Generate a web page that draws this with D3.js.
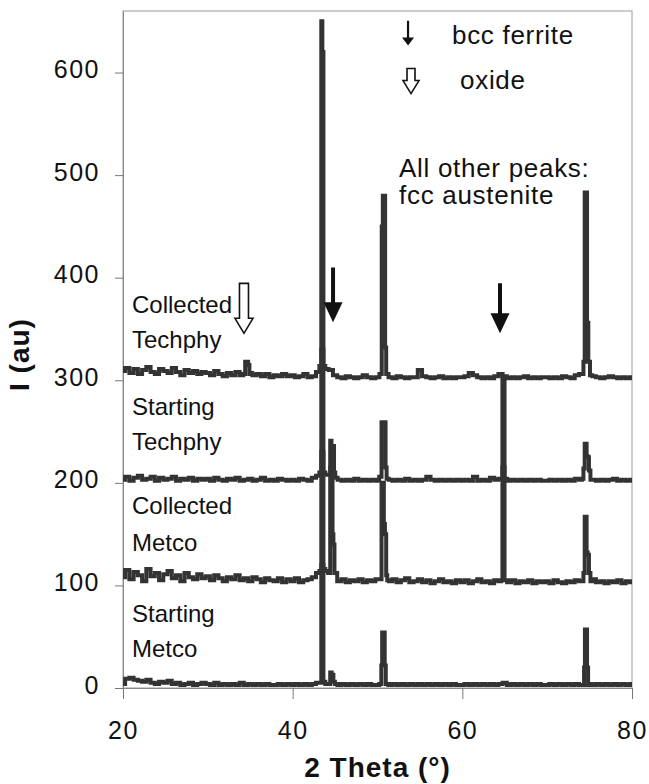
<!DOCTYPE html>
<html>
<head>
<meta charset="utf-8">
<script src="https://cdn.jsdelivr.net/npm/d3@7"></script>
<style>
    body { margin: 0; background: #fff; }
    text { font-family: "Liberation Sans", Arial, sans-serif; fill: #111; }
    .axis-label { font-size: 25px; letter-spacing: 1.5px; }
    .axis-title { font-size: 28px; font-weight: bold; letter-spacing: 1px; }
    .trace-label { font-size: 24px; }
    .note-label { font-size: 26px; letter-spacing: 0.7px; }
</style>
</head>
<body>
<svg id="xrd" width="649" height="784"></svg>
<script>
// sampling grid of the baseline (2 theta, degrees)
const thetaGrid = [
    20, 20.5, 21, 21.5, 22, 22.5, 23, 23.5, 24, 24.5, 25, 25.5, 26, 26.5, 27, 27.5, 28, 28.5, 29, 29.5,
    30, 30.5, 31, 31.5, 32, 32.5, 33, 33.5, 34, 34.5, 35, 35.5, 36, 36.5, 37, 37.5, 38, 38.5, 39, 39.5,
    40, 40.5, 41, 41.5, 42, 42.5, 43, 43.5, 44, 44.5, 45, 45.5, 46, 46.5, 47, 47.5, 48, 48.5, 49, 49.5,
    50, 50.5, 51, 51.5, 52, 52.5, 53, 53.5, 54, 54.5, 55, 55.5, 56, 56.5, 57, 57.5, 58, 58.5, 59, 59.5,
    60, 60.5, 61, 61.5, 62, 62.5, 63, 63.5, 64, 64.5, 65, 65.5, 66, 66.5, 67, 67.5, 68, 68.5, 69, 69.5,
    70, 70.5, 71, 71.5, 72, 72.5, 73, 73.5, 74, 74.5, 75, 75.5, 76, 76.5, 77, 77.5, 78, 78.5, 79, 79.5, 80
];

// baseline intensities (au), already offset by 300 / 200 / 100 / 0
const collectedTechphyBase = [
    309, 312, 307, 311, 306, 310, 313, 308, 306, 311, 309, 307, 312, 308, 305, 310, 307, 309, 306, 308,
    307, 305, 309, 306, 304, 307, 305, 308, 305, 306, 307, 305, 306, 304, 306, 303, 305, 304, 306, 304,
    305, 303, 304, 306, 303, 304, 308, 310, 311, 310, 305, 303, 302, 304, 303, 302, 303, 305, 303, 302,
    303, 303, 303, 303, 302, 304, 303, 302, 303, 303, 310, 304, 303, 302, 303, 304, 302, 303, 302, 303,
    303, 304, 307, 305, 303, 302, 303, 302, 304, 306, 304, 302, 303, 302, 303, 304, 302, 303, 302, 303,
    303, 302, 303, 302, 304, 303, 302, 305, 306, 304, 304, 304, 303, 302, 303, 304, 303, 302, 303, 302, 303
];
const startingTechphyBase = [
    203, 206, 202, 205, 207, 203, 204, 206, 202, 205, 203, 204, 206, 202, 204, 203, 205, 202, 204, 203,
    204, 202, 205, 203, 202, 204, 203, 205, 202, 203, 204, 202, 203, 205, 202, 203, 202, 204, 203, 202,
    203, 202, 204, 203, 202, 205, 207, 208, 208, 207, 206, 203, 202, 203, 202, 204, 202, 203, 202, 203,
    202, 203, 203, 203, 202, 203, 202, 204, 202, 203, 202, 203, 206, 203, 202, 203, 202, 203, 202, 203,
    202, 203, 202, 206, 202, 203, 202, 205, 203, 204, 203, 202, 203, 202, 203, 202, 203, 202, 203, 202,
    202, 203, 202, 203, 202, 203, 202, 204, 203, 203, 203, 203, 202, 203, 202, 203, 204, 202, 203, 202, 203
];
const collectedMetcoBase = [
    108, 115, 106, 113, 110, 104, 116, 109, 112, 105, 111, 114, 107, 110, 104, 112, 108, 106, 111, 107,
    109, 105, 110, 107, 104, 108, 106, 110, 105, 107, 104, 108, 106, 103, 107, 105, 104, 107, 103, 106,
    104, 107, 103, 105, 106, 108, 112, 113, 114, 112, 108, 104, 106, 103, 105, 104, 106, 103, 105, 104,
    106, 106, 106, 104, 106, 103, 105, 107, 103, 104, 106, 103, 105, 102, 104, 106, 103, 104, 102, 105,
    103, 105, 102, 104, 106, 103, 104, 102, 105, 104, 106, 103, 105, 102, 104, 103, 105, 102, 104, 103,
    104, 102, 105, 103, 102, 104, 103, 105, 104, 104, 104, 106, 103, 104, 102, 104, 103, 105, 102, 104, 103
];
const startingMetcoBase = [
    4, 9, 10, 8, 7, 6, 8, 5, 4, 6, 5, 7, 4, 5, 3, 4, 5, 3, 4, 5,
    4, 3, 5, 3, 4, 3, 4, 3, 5, 3, 4, 3, 4, 3, 4, 3, 3, 4, 3, 4,
    3, 4, 3, 4, 3, 4, 5, 5, 4, 4, 4, 3, 4, 3, 4, 3, 4, 3, 4, 3,
    3, 3, 3, 3, 4, 3, 4, 3, 4, 3, 4, 3, 4, 3, 4, 3, 4, 3, 4, 3,
    3, 4, 3, 4, 3, 4, 3, 4, 3, 4, 5, 3, 4, 3, 4, 3, 4, 3, 4, 3,
    3, 4, 3, 4, 3, 4, 3, 4, 3, 4, 4, 3, 4, 3, 4, 3, 4, 3, 4, 3, 4
];

// peak profiles [2 theta, intensity]
const collectedTechphyPeaks = [
    [[34.35, 306], [34.45, 318], [34.65, 318], [34.85, 315], [34.95, 306]],
    [[43.3, 314], [43.45, 650], [43.55, 620], [43.7, 314]],
    [[50.45, 306], [50.55, 450], [50.7, 480], [50.85, 480], [50.95, 332], [51.1, 306]],
    [[74.2, 306], [74.35, 318], [74.5, 483], [74.65, 483], [74.75, 356], [74.95, 318], [75.15, 305]]
];
const startingTechphyPeaks = [
    [[43.3, 210], [43.45, 330], [43.55, 330], [43.7, 210]],
    [[44.35, 208], [44.5, 241], [44.65, 236], [44.8, 236], [44.95, 210], [45.1, 205]],
    [[50.4, 206], [50.55, 259], [50.75, 259], [50.9, 259], [51.0, 215], [51.15, 204]],
    [[64.65, 204], [64.8, 302], [64.9, 302], [65.05, 204]],
    [[74.2, 204], [74.35, 214], [74.5, 238], [74.6, 238], [74.7, 226], [74.85, 225], [75.0, 212], [75.2, 203]]
];
const collectedMetcoPeaks = [
    [[43.3, 114], [43.45, 230], [43.55, 230], [43.7, 116]],
    [[44.35, 112], [44.5, 215], [44.65, 215], [44.75, 150], [44.85, 140], [45.0, 112]],
    [[50.4, 106], [50.55, 200], [50.7, 200], [50.8, 160], [50.95, 150], [51.1, 110], [51.2, 105]],
    [[64.65, 105], [64.8, 215], [64.9, 215], [65.05, 105]],
    [[74.2, 104], [74.35, 112], [74.5, 167], [74.6, 167], [74.7, 132], [74.85, 130], [75.0, 112], [75.2, 104]]
];
const startingMetcoPeaks = [
    [[43.3, 5], [43.45, 120], [43.55, 120], [43.7, 6]],
    [[44.35, 4], [44.5, 15], [44.7, 13], [44.9, 6], [45.05, 4]],
    [[50.4, 4], [50.5, 22], [50.6, 54], [50.8, 54], [50.9, 22], [51.05, 4]],
    [[74.3, 3], [74.4, 20], [74.5, 57], [74.65, 57], [74.75, 20], [74.9, 3]]
];

// trace labels: [first line, second line, baseline of line 1, baseline of line 2] in au
const traceLabels = [
    ["Collected", "Techphy", 366, 331],
    ["Starting", "Techphy", 266, 232],
    ["Collected", "Metco", 170, 134],
    ["Starting", "Metco", 64, 30]
];

const xTicks = [20, 40, 60, 80];
const yTicks = [0, 100, 200, 300, 400, 500, 600];

// arrows: [2 theta, top (au), tip (au), kind]
const arrowMarks = [
    [44.76, 410, 356.5, "ferrite"],
    [64.44, 394.5, 345.8, "ferrite"],
    [34.26, 394.5, 345.8, "oxide"],
    [53.6, 650.6, 626.3, "ferrite-key"],
    [53.95, 603.9, 579.5, "oxide-key"]
];
// notes: [text, 2 theta, au]
const noteLabels = [
    ["bcc ferrite", 58.78, 628],
    ["oxide", 59.73, 584.4],
    ["All other peaks:", 52.54, 498.5],
    ["fcc austenite", 52.54, 471.5]
];

function drawXrd(graphId) {

    const _width = +document.getElementById(graphId).getAttribute("width"),
        _height = +document.getElementById(graphId).getAttribute("height"),
        margin = { top: 11, right: 17, bottom: 96, left: 123 },
        width = _width - margin.left - margin.right,
        height = _height - margin.top - margin.bottom,
        lineColor = "#333";

    let svg = d3.select("#" + graphId)
        .append("g")
        .attr("transform", "translate(" + margin.left + "," + margin.top + ")");

    // 1. scales
    let xScale = d3.scaleLinear().domain([20, 80]).range([0, width]);
    let yScale = d3.scaleLinear().domain([0, 660]).range([height, 0]);

    // 2. plot frame
    svg.append("rect")
        .attr("width", width)
        .attr("height", height)
        .attr("fill", "none")
        .attr("stroke", "#999")
        .attr("stroke-width", 1);

    // 3. axes
    let xAxis = svg.append("g")
        .attr("transform", "translate(0," + height + ")")
        .call(d3.axisBottom(xScale)
            .tickValues(xTicks)
            .tickSize(11)
            .tickPadding(22)
            .tickSizeOuter(0));

    let yAxis = svg.append("g")
        .call(d3.axisLeft(yScale)
            .tickValues(yTicks)
            .tickSize(8)
            .tickPadding(15)
            .tickSizeOuter(0));

    [xAxis, yAxis].forEach(ax => {
        ax.select(".domain").attr("stroke", "#888");
        ax.selectAll(".tick line").attr("stroke", "#777");
        ax.selectAll(".tick text")
            .attr("class", "axis-label");
        ax.attr("font-size", null).attr("font-family", null);
    });
    yAxis.selectAll(".tick text").attr("dy", "0.2em");

    svg.append("text")
        .attr("class", "axis-title")
        .attr("text-anchor", "middle")
        .attr("x", width / 2)
        .attr("y", height + 89)
        .text("2 Theta (°)");

    svg.append("text")
        .attr("class", "axis-title")
        .attr("text-anchor", "middle")
        .attr("transform", "translate(" + (-94) + "," + (height / 2 + 5) + ") rotate(-90)")
        .text("I (au)");

    // 4. traces: baseline grid merged with peak profiles
    function buildTrace(base, peaks) {
        let pts = thetaGrid.map((t, i) => [t, base[i]])
            .filter(p => !peaks.some(pk => p[0] >= pk[0][0] && p[0] <= pk[pk.length - 1][0]));
        peaks.forEach(pk => pk.forEach(p => pts.push(p)));
        return pts.sort((a, b) => a[0] - b[0]);
    }

    const traces = [
        buildTrace(collectedTechphyBase, collectedTechphyPeaks),
        buildTrace(startingTechphyBase, startingTechphyPeaks),
        buildTrace(collectedMetcoBase, collectedMetcoPeaks),
        buildTrace(startingMetcoBase, startingMetcoPeaks)
    ];

    // step curve gives the blocky look of the raw counts
    let line = d3.line()
        .curve(d3.curveStep)
        .x(d => xScale(d[0]))
        .y(d => yScale(d[1]));

    svg.append("g")
        .attr("class", "traces")
        .selectAll("path")
        .data(traces)
        .join("path")
        .attr("d", line)
        .attr("fill", "none")
        .attr("stroke", lineColor)
        .attr("stroke-width", 4)
        .attr("stroke-linejoin", "miter");

    // 5. trace labels
    traceLabels.forEach(l => {
        svg.append("text").attr("class", "trace-label")
            .attr("x", xScale(21.06)).attr("y", yScale(l[2])).text(l[0]);
        svg.append("text").attr("class", "trace-label")
            .attr("x", xScale(21.06)).attr("y", yScale(l[3])).text(l[1]);
    });

    // 6. arrows
    const arrowStyle = {
        "ferrite": { shaft: 4, head: 19, headH: 20, hollow: false },
        "oxide": { shaft: 9, head: 18, headH: 15, hollow: true },
        "ferrite-key": { shaft: 2.2, head: 12, headH: 8, hollow: false },
        "oxide-key": { shaft: 8, head: 16, headH: 13, hollow: true }
    };

    arrowMarks.forEach(a => {
        let s = arrowStyle[a[3]],
            x = xScale(a[0]),
            yTop = yScale(a[1]),
            yTip = yScale(a[2]),
            yHead = yTip - s.headH;
        let path = d3.path();
        path.moveTo(x - s.shaft / 2, yTop);
        path.lineTo(x + s.shaft / 2, yTop);
        path.lineTo(x + s.shaft / 2, yHead);
        path.lineTo(x + s.head / 2, yHead);
        path.lineTo(x, yTip);
        path.lineTo(x - s.head / 2, yHead);
        path.lineTo(x - s.shaft / 2, yHead);
        path.closePath();
        svg.append("path")
            .attr("d", path.toString())
            .attr("fill", s.hollow ? "#fff" : "#111")
            .attr("stroke", s.hollow ? "#111" : "none")
            .attr("stroke-width", 1.6)
            .attr("stroke-linejoin", "miter");
    });

    // 7. notes
    noteLabels.forEach(n => {
        svg.append("text")
            .attr("class", "note-label")
            .attr("x", xScale(n[1]))
            .attr("y", yScale(n[2]))
            .text(n[0]);
    });
}

drawXrd("xrd");
</script>
</body>
</html>
